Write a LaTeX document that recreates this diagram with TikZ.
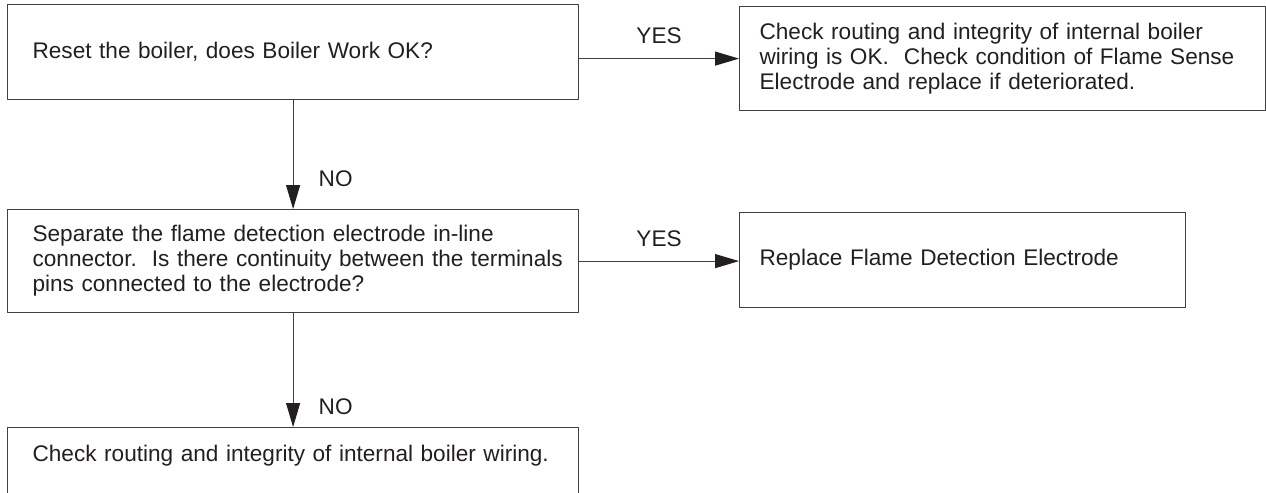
\documentclass[tikz,border=0pt]{standalone}
\usepackage{fontspec}
\setmainfont{Liberation Sans}
\usetikzlibrary{arrows.meta}
\definecolor{linegray}{HTML}{404040}
\definecolor{inktext}{HTML}{231F20}
\frenchspacing

\begin{document}
\begin{tikzpicture}[x=0.5pt,y=-0.5pt,line join=round,
	box/.style={draw=linegray,line width=0.6pt,rectangle,anchor=north west,align=left,
		text=inktext,font=\fontsize{11.3}{12.5}\selectfont},
	leftbox/.style={box,minimum width=285.5pt,text width=260.5pt,inner xsep=12.5pt},
	rightbox/.style={box,inner xsep=10pt},
	flow/.style={draw=linegray,line width=0.6pt,-{Triangle[length=12pt,width=7pt,color=inktext]}},
	answer/.style={text=inktext,font=\fontsize{11.3}{12.5}\selectfont,inner sep=0pt}]
	\useasboundingbox (0,0) rectangle (1266,493);
	% questions on the left
	\node[leftbox,minimum height=47.5pt] (reset) at (7,4) {Reset the boiler, does Boiler Work OK?};
	\node[leftbox,minimum height=51.5pt] (separate) at (7,209) {\mbox{Separate the flame detection electrode in-line}\\
		\mbox{connector.\ \ Is there continuity between the terminals}\\
		\mbox{pins connected to the electrode?}};
	\node[leftbox,text height=12pt,text depth=40pt,inner ysep=5pt] (wiring) at (7,427) {Check routing and integrity of internal boiler wiring.};
	% actions on the right
	\node[rightbox,minimum width=263pt,minimum height=52pt,text width=243pt] (sense) at (739,6) {\mbox{Check routing and integrity of internal boiler}\\
		\mbox{wiring is OK.\ \ Check condition of Flame Sense}\\
		\mbox{Electrode and replace if deteriorated.}};
	\node[rightbox,minimum width=223pt,minimum height=47.5pt,text width=203pt] (replace) at (739,212) {Replace Flame Detection Electrode};
	% connectors
	\draw[flow] (reset.east |- sense.west) -- (sense.west) node[answer,midway,above=7pt] {YES};
	\draw[flow] (separate.east) -- (separate.east -| replace.west) node[answer,midway,above=7pt] {YES};
	\draw[flow] (reset.south) -- (separate.north) node[answer,pos=0.72,right=12.5pt] {NO};
	\draw[flow] (separate.south) -- (wiring.north) node[answer,pos=0.82,right=12.5pt] {NO};
\end{tikzpicture}
\end{document}
